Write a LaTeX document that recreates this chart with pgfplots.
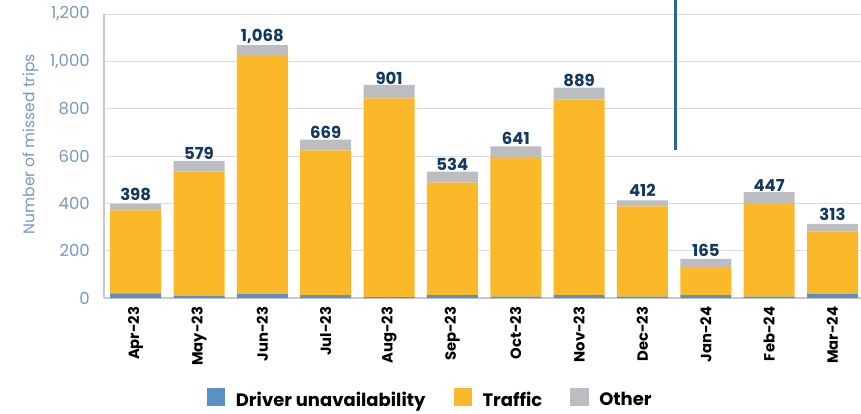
\documentclass[border=0pt]{standalone}
\usepackage{pgfplots}
\pgfplotsset{compat=1.18}
\usepackage{fontspec}
\setmainfont{Poppins}
\definecolor{cblue}{RGB}{90,144,196}
\definecolor{cyel}{RGB}{251,184,41}
\definecolor{cgray}{RGB}{188,189,193}
\definecolor{cnavy}{RGB}{16,56,96}
\definecolor{ctick}{RGB}{118,152,196}
\definecolor{cgrid}{RGB}{218,219,223}
\definecolor{caxis}{RGB}{200,201,205}
\definecolor{cline}{RGB}{45,100,150}
\begin{document}
\begin{tikzpicture}
\path[use as bounding box] (0,0) rectangle (861pt,413pt);
\begin{axis}[
  at={(104pt,115pt)}, anchor=south west,
  scale only axis, width=757pt, height=284pt,
  ybar stacked, bar width=51pt,
  xmin=-0.5, xmax=11.45, ymin=0, ymax=1200,
  clip=false,
  axis x line*=bottom, axis y line*=left,
  axis line style={draw=caxis, line width=1.2pt, -},
  xtick={0,...,11},
  xticklabels={Apr-23,May-23,Jun-23,Jul-23,Aug-23,Sep-23,Oct-23,Nov-23,Dec-23,Jan-24,Feb-24,Mar-24},
  xticklabel style={rotate=90, anchor=east, inner sep=0pt, font=\bfseries\fontsize{14.8}{14.8}\selectfont, text=black},
  xticklabel shift=8.5pt,
  ytick={0,200,...,1200},
  yticklabel style={font=\fontsize{16.5}{16.5}\selectfont, text=ctick, inner sep=0pt},
  yticklabel shift=14pt,
  major tick length=0pt,
  /pgf/number format/.cd, 1000 sep={,}, assume math mode=true, /pgfplots/.cd,
  ymajorgrids, major grid style={draw=cgrid, line width=1pt},
  ylabel={Number of missed trips},
  ylabel style={at={(axis description cs:-0.097,0.542)}, anchor=center, rotate=0, font=\fontsize{15.5}{15.5}\selectfont, text=ctick},
  legend columns=3,
  legend style={at={(axis description cs:0.431,-0.355)}, anchor=center, draw=none, fill=none,
    font=\bfseries\fontsize{18}{18}\selectfont, text=black,
    /tikz/every even column/.append style={column sep=26pt}},
  nodes near coords style={font=\bfseries\fontsize{16.5}{16.5}\selectfont, text=cnavy, anchor=south, inner sep=0pt, yshift=6.5pt},
]
\addplot[fill=cblue, draw=none, legend image code/.code={\fill[cblue] (0pt,-6.5pt) rectangle (18.5pt,12pt); \path (27pt,0pt);}] coordinates {
(0,20) (1,8) (2,16) (3,12) (4,4) (5,12) (6,6) (7,12) (8,6) (9,12) (10,6) (11,16)};
\addplot[fill=cyel, draw=none, legend image code/.code={\fill[cyel] (0pt,-6.5pt) rectangle (18.5pt,12pt); \path (27pt,0pt);}] coordinates {
(0,350) (1,526) (2,1006) (3,612) (4,839) (5,476) (6,589) (7,826) (8,381) (9,119) (10,392) (11,266)};
\addplot[fill=cgray, draw=none, legend image code/.code={\fill[cgray] (0pt,-6.5pt) rectangle (18.5pt,12pt); \path (27pt,0pt);},
  nodes near coords, point meta=explicit] coordinates {
(0,28) [398] (1,45) [579] (2,46) [1068] (3,45) [669] (4,58) [901] (5,46) [534] (6,46) [641] (7,51) [889] (8,25) [412] (9,34) [165] (10,49) [447] (11,31) [313]};
\legend{Driver unavailability, Traffic, Other}
\draw[cline, line width=2.2pt] (axis cs:8.52,626) -- (axis cs:8.52,1258);
\end{axis}
\end{tikzpicture}
\end{document}
